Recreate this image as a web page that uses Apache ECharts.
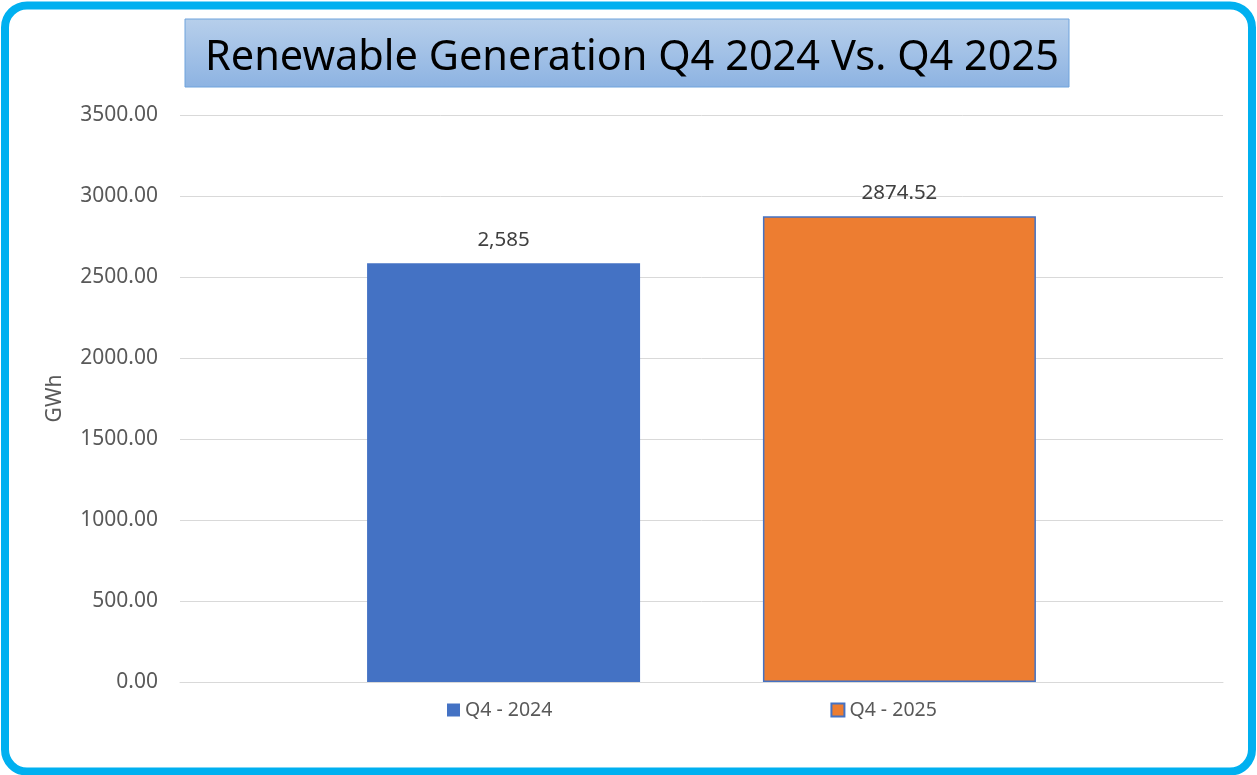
<!DOCTYPE html>
<html>
<head>
<meta charset="utf-8">
<script src="https://cdn.jsdelivr.net/npm/echarts@6/dist/echarts.min.js"></script>
<style>html,body{margin:0;padding:0;background:#fff}#c{width:1257px;height:775px}</style>
</head>
<body>
<div id="c"></div>
<script>
const titleText = 'Renewable Generation Q4 2024 Vs. Q4 2025';
const seriesNames = ['Q4 - 2024', 'Q4 - 2025'];
const seriesValues = [2585, 2874.52];
const labelTexts = ['2,585', '2874.52'];
const yTicks = [0, 500, 1000, 1500, 2000, 2500, 3000, 3500];
const yName = 'GWh';

const FONT = 'Noto Sans';
const colors = ['#4472c4', '#ed7d31'];

const chart = echarts.init(document.getElementById('c'));
chart.setOption({
  animation: false,
  backgroundColor: '#fff',
  textStyle: { fontFamily: FONT },
  title: {
    text: titleText,
    left: 627, top: 53, textAlign: 'center', textVerticalAlign: 'middle',
    textStyle: { fontFamily: FONT, fontSize: 41.5, fontWeight: 'normal', color: '#000' }
  },
  graphic: [
    { type: 'rect', z: -1, shape: { x: 185, y: 19, width: 884, height: 68 },
      style: { fill: new echarts.graphic.LinearGradient(0, 0, 0, 1, [{offset: 0, color: '#b7cfeb'}, {offset: 1, color: '#8db3e2'}]),
               stroke: '#6fa3dc', lineWidth: 1 } },
    { type: 'rect', z: 100, shape: { x: 5, y: 5.5, width: 1247, height: 766, r: 22 },
      style: { fill: 'none', stroke: '#00b0f0', lineWidth: 8 } }
  ],
  legend: {
    left: 442, top: 695, itemWidth: 13, itemHeight: 13, itemGap: 278,
    icon: 'rect',
    textStyle: { fontFamily: FONT, fontSize: 19.5, color: '#595959' },
    data: seriesNames
  },
  grid: { left: 180, right: 34, top: 115, bottom: 93, containLabel: false },
  xAxis: {
    type: 'category', data: [''],
    axisLine: { lineStyle: { color: '#d9d9d9', width: 1 } },
    axisTick: { show: false }, axisLabel: { show: false }
  },
  yAxis: {
    type: 'value', min: yTicks[0], max: yTicks[yTicks.length - 1], interval: 500,
    name: yName, nameLocation: 'middle', nameGap: 114, nameRotate: 90,
    nameTextStyle: { fontFamily: FONT, fontSize: 21, color: '#595959' },
    axisLine: { show: false }, axisTick: { show: false },
    axisLabel: { margin: 22, fontFamily: FONT, fontSize: 21, color: '#595959', formatter: v => v.toFixed(2) },
    splitLine: { lineStyle: { color: '#d9d9d9', width: 1 } }
  },
  series: seriesNames.map((n, i) => ({
    name: n, type: 'bar', data: [seriesValues[i]],
    barWidth: 273, barGap: '45%',
    itemStyle: { color: colors[i], borderColor: '#4472c4', borderWidth: i === 1 ? 1.5 : 0 },
    label: { show: true, position: 'top', distance: 13, formatter: () => labelTexts[i],
             fontFamily: FONT, fontSize: 20.5, color: '#404040' }
  }))
});
</script>
</body>
</html>
